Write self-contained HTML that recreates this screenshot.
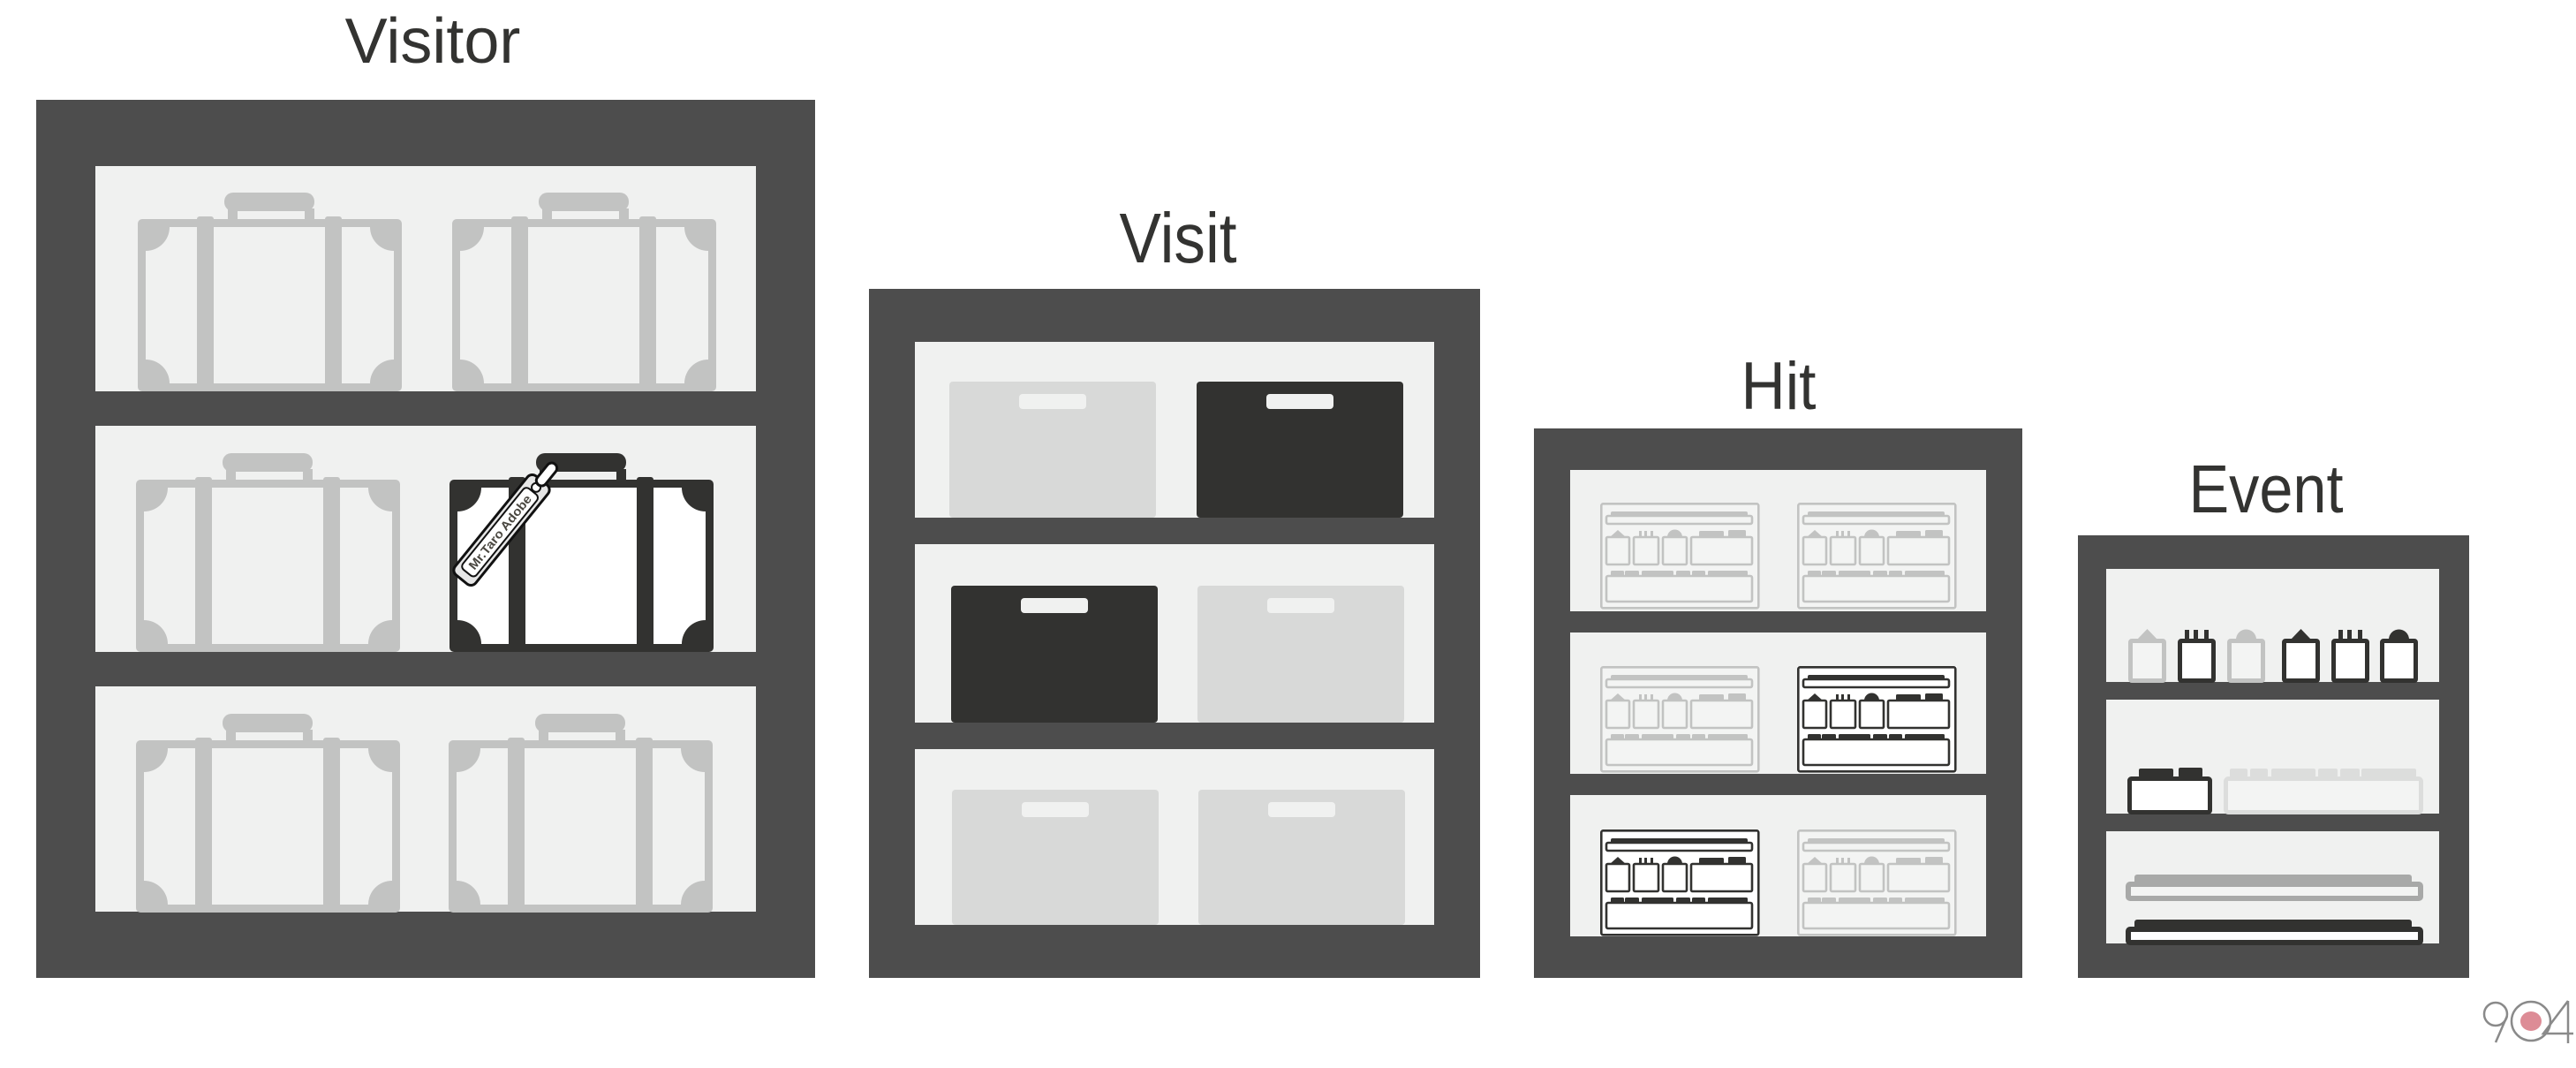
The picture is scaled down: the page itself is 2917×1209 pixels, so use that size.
<!DOCTYPE html>
<html><head><meta charset="utf-8"><style>
html,body{margin:0;padding:0;background:#fff;}
svg{display:block;}
text{font-family:"Liberation Sans",sans-serif;fill:#333331;}
</style></head><body>
<svg width="2917" height="1209" viewBox="0 0 2917 1209" xmlns="http://www.w3.org/2000/svg">
<defs>
  <g id="suit">
    <rect x="98" y="0" width="102" height="21" rx="10"/>
    <rect x="102" y="18" width="11" height="15"/>
    <rect x="189" y="18" width="11" height="15"/>
    <rect x="0" y="30" width="299" height="195" rx="5"/>
    <rect x="67" y="27" width="19" height="10" rx="3"/>
    <rect x="212" y="27" width="19" height="10" rx="3"/>
  </g>
  <g id="suitIn">
    <path d="M9 66 A27 27 0 0 0 36 39 H67 V216 H36 A27 27 0 0 0 9 189 Z"/>
    <rect x="86" y="39" width="126" height="177"/>
    <path d="M290 66 A27 27 0 0 1 263 39 H231 V216 H263 A27 27 0 0 1 290 189 Z"/>
  </g>
  <g id="card" fill="none" stroke="currentColor" stroke-width="2.6">
    <rect x="1.3" y="1.3" width="178" height="118" rx="2"/>
    <g fill="currentColor" stroke="none">
      <rect x="12" y="10" width="155" height="6" rx="2"/>
      <path d="M11 39 L20 31 L29 39 Z"/>
      <rect x="44" y="32" width="3" height="8"/>
      <rect x="50" y="32" width="3" height="8"/>
      <rect x="57" y="32" width="3" height="8"/>
      <path d="M76 39 A8.5 8.5 0 0 1 93 39 Z"/>
      <rect x="112" y="32" width="28" height="8" rx="1.5"/>
      <rect x="145" y="31" width="20" height="9" rx="1.5"/>
      <rect x="12" y="77" width="15" height="7" rx="1.5"/>
      <rect x="28" y="77" width="16" height="7" rx="1.5"/>
      <rect x="47" y="77" width="36" height="7" rx="1.5"/>
      <rect x="86" y="77" width="16" height="7" rx="1.5"/>
      <rect x="104" y="77" width="15" height="7" rx="1.5"/>
      <rect x="122" y="77" width="45" height="7" rx="1.5"/>
    </g>
    <rect x="7" y="15" width="165" height="9" rx="2"/>
    <rect x="7" y="39" width="26" height="31" rx="1.5"/>
    <rect x="38" y="39" width="28" height="31" rx="1.5"/>
    <rect x="71" y="39" width="27" height="31" rx="1.5"/>
    <rect x="103" y="39" width="69" height="31" rx="1.5"/>
    <rect x="7" y="83" width="165" height="29" rx="2"/>
  </g>
</defs>

<!-- Titles -->
<text x="490" y="71" font-size="72" text-anchor="middle">Visitor</text>
<text x="1334" y="297" font-size="80" text-anchor="middle" textLength="133" lengthAdjust="spacingAndGlyphs">Visit</text>
<text x="2014" y="463" font-size="76" text-anchor="middle" textLength="85" lengthAdjust="spacingAndGlyphs">Hit</text>
<text x="2566" y="580" font-size="77" text-anchor="middle" textLength="175" lengthAdjust="spacingAndGlyphs">Event</text>

<!-- Visitor shelf -->
<rect x="41" y="113" width="882" height="994" fill="#4d4d4d"/>
<rect x="108" y="188" width="748" height="255" fill="#f0f1f0"/>
<rect x="108" y="482" width="748" height="256" fill="#f0f1f0"/>
<rect x="108" y="777" width="748" height="255" fill="#f0f1f0"/>

<g fill="#c2c3c2">
  <use href="#suit" x="156" y="218"/><use href="#suit" x="512" y="218"/>
  <use href="#suit" x="154" y="513"/>
  <use href="#suit" x="154" y="808"/><use href="#suit" x="508" y="808"/>
</g>
<g fill="#f0f1f0">
  <use href="#suitIn" x="156" y="218"/><use href="#suitIn" x="512" y="218"/>
  <use href="#suitIn" x="154" y="513"/>
  <use href="#suitIn" x="154" y="808"/><use href="#suitIn" x="508" y="808"/>
</g>
<use href="#suit" x="509" y="513" fill="#323230"/>
<use href="#suitIn" x="509" y="513" fill="#ffffff"/>
<!-- tag -->
<g transform="translate(568,600) rotate(-51)">
  <rect x="-72" y="-15" width="144" height="30" rx="7" fill="#e6e6e6" stroke="#111" stroke-width="3"/>
  <rect x="-62" y="-10" width="118" height="20" rx="5" fill="#fff" stroke="#111" stroke-width="2"/>
  <circle cx="62" cy="0" r="5" fill="#fff" stroke="#111" stroke-width="2"/>
  <rect x="66" y="-6" width="30" height="12" rx="6" fill="#fff" stroke="#111" stroke-width="3"/>
  <text x="-3" y="5" font-size="14" font-weight="bold" text-anchor="middle" textLength="104" lengthAdjust="spacingAndGlyphs" style="fill:#4a4740">Mr.Taro Adobe</text>
</g>

<!-- Visit shelf -->
<rect x="984" y="327" width="692" height="780" fill="#4d4d4d"/>
<rect x="1036" y="387" width="588" height="199" fill="#f0f1f0"/>
<rect x="1036" y="616" width="588" height="202" fill="#f0f1f0"/>
<rect x="1036" y="848" width="588" height="199" fill="#f0f1f0"/>
<g>
  <rect x="1075" y="432" width="234" height="154" rx="4" fill="#d8d9d8"/>
  <rect x="1154" y="446" width="76" height="17" rx="4" fill="#f0f1f0"/>
  <rect x="1355" y="432" width="234" height="154" rx="4" fill="#323230"/>
  <rect x="1434" y="446" width="76" height="17" rx="4" fill="#f0f1f0"/>

  <rect x="1077" y="663" width="234" height="155" rx="4" fill="#323230"/>
  <rect x="1156" y="677" width="76" height="17" rx="4" fill="#f0f1f0"/>
  <rect x="1356" y="663" width="234" height="155" rx="4" fill="#d8d9d8"/>
  <rect x="1435" y="677" width="76" height="17" rx="4" fill="#f0f1f0"/>

  <rect x="1078" y="894" width="234" height="153" rx="4" fill="#d8d9d8"/>
  <rect x="1157" y="908" width="76" height="17" rx="4" fill="#f0f1f0"/>
  <rect x="1357" y="894" width="234" height="153" rx="4" fill="#d8d9d8"/>
  <rect x="1436" y="908" width="76" height="17" rx="4" fill="#f0f1f0"/>
</g>

<!-- Hit shelf -->
<rect x="1737" y="485" width="553" height="622" fill="#4d4d4d"/>
<rect x="1778" y="532" width="471" height="160" fill="#f0f1f0"/>
<rect x="1778" y="716" width="471" height="160" fill="#f0f1f0"/>
<rect x="1778" y="900" width="471" height="160" fill="#f0f1f0"/>
<rect x="1812" y="569" width="181" height="121" fill="#f3f4f3"/><use href="#card" x="1812" y="569" color="#c2c3c2"/>
<rect x="2035" y="569" width="181" height="121" fill="#f3f4f3"/><use href="#card" x="2035" y="569" color="#c2c3c2"/>
<rect x="1812" y="754" width="181" height="121" fill="#f3f4f3"/><use href="#card" x="1812" y="754" color="#c2c3c2"/>
<rect x="2035" y="754" width="181" height="121" fill="#fff"/><use href="#card" x="2035" y="754" color="#323230"/>
<rect x="1812" y="939" width="181" height="121" fill="#fff"/><use href="#card" x="1812" y="939" color="#323230"/>
<rect x="2035" y="939" width="181" height="121" fill="#f3f4f3"/><use href="#card" x="2035" y="939" color="#c2c3c2"/>

<!-- Event shelf -->
<rect x="2353" y="606" width="443" height="501" fill="#4d4d4d"/>
<rect x="2385" y="644" width="377" height="128" fill="#f0f1f0"/>
<rect x="2385" y="792" width="377" height="129" fill="#f0f1f0"/>
<rect x="2385" y="941" width="377" height="127" fill="#f0f1f0"/>
<!-- row1 blocks -->
<g stroke-width="5">
  <rect x="2412.5" y="725.5" width="38" height="45" rx="1.5" stroke="#c2c3c2" fill="#f3f4f3"/>
  <path d="M2420 724 L2431.5 712 L2443 724 Z" fill="#c2c3c2"/>
  <rect x="2468.5" y="725.5" width="38" height="45" rx="1.5" stroke="#323230" fill="#fff"/>
  <rect x="2474" y="713" width="5" height="11" fill="#323230"/><rect x="2484" y="713" width="5" height="11" fill="#323230"/><rect x="2496" y="713" width="5" height="11" fill="#323230"/>
  <rect x="2524.5" y="725.5" width="38" height="45" rx="1.5" stroke="#c2c3c2" fill="#f3f4f3"/>
  <path d="M2532 724 A11.5 11.5 0 0 1 2555 724 Z" fill="#c2c3c2"/>
  <rect x="2586.5" y="725.5" width="38" height="45" rx="1.5" stroke="#323230" fill="#fff"/>
  <path d="M2594 724 L2605.5 712 L2617 724 Z" fill="#323230"/>
  <rect x="2642.5" y="725.5" width="38" height="45" rx="1.5" stroke="#323230" fill="#fff"/>
  <rect x="2648" y="713" width="5" height="11" fill="#323230"/><rect x="2658" y="713" width="5" height="11" fill="#323230"/><rect x="2670" y="713" width="5" height="11" fill="#323230"/>
  <rect x="2697.5" y="725.5" width="38" height="45" rx="1.5" stroke="#323230" fill="#fff"/>
  <path d="M2705 724 A11.5 11.5 0 0 1 2728 724 Z" fill="#323230"/>
</g>
<!-- row2 -->
<rect x="2422" y="870" width="39" height="10" rx="2" fill="#323230"/>
<rect x="2467" y="869" width="27" height="11" rx="2" fill="#323230"/>
<rect x="2411.5" y="881.5" width="91" height="38" rx="2" fill="#fff" stroke="#323230" stroke-width="5"/>
<g fill="#dcdddc">
  <rect x="2525" y="870" width="20" height="10" rx="2"/><rect x="2548" y="870" width="20" height="10" rx="2"/>
  <rect x="2572" y="870" width="50" height="10" rx="2"/><rect x="2625" y="870" width="22" height="10" rx="2"/>
  <rect x="2650" y="870" width="22" height="10" rx="2"/><rect x="2674" y="870" width="62" height="10" rx="2"/>
</g>
<rect x="2520.5" y="881.5" width="221" height="38" rx="3" fill="#f3f4f3" stroke="#dcdddc" stroke-width="5"/>
<!-- row3 -->
<rect x="2417" y="990" width="314" height="11" rx="3" fill="#a8a9a8"/>
<rect x="2410" y="1001" width="331" height="16" rx="2" fill="#f3f4f3" stroke="#a8a9a8" stroke-width="6"/>
<rect x="2417" y="1041" width="314" height="11" rx="3" fill="#323230"/>
<rect x="2410" y="1052" width="331" height="15" rx="2" fill="#fff" stroke="#323230" stroke-width="6"/>

<!-- 904 logo -->
<g fill="none" stroke="#8a8a8a" stroke-width="2.5">
  <circle cx="2826" cy="1148" r="13"/>
  <path d="M2839 1150 L2826 1180"/>
  <circle cx="2866" cy="1156" r="22"/>
  <path d="M2908 1133 L2908 1181 M2908 1133 L2880 1170 L2914 1170"/>
</g>
<ellipse cx="2866" cy="1156" rx="12" ry="11" fill="#dd8c96"/>
</svg>
</body></html>
